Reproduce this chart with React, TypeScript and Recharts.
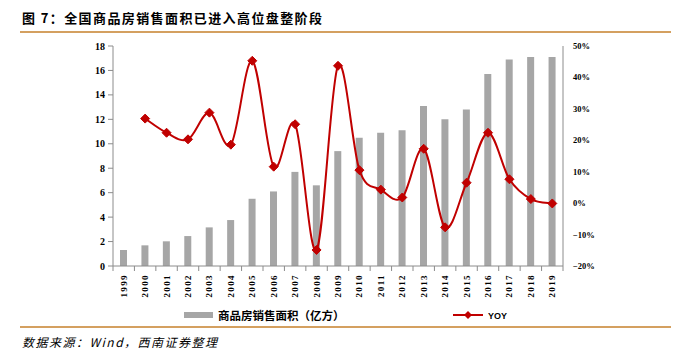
import React from "react";
import { ComposedChart, Bar, Line, XAxis, YAxis } from "recharts";

const years = ["1999","2000","2001","2002","2003","2004","2005","2006","2007","2008","2009","2010","2011","2012","2013","2014","2015","2016","2017","2018","2019"];
const area = [1.31,1.69,2.02,2.45,3.16,3.76,5.5,6.1,7.7,6.6,9.4,10.5,10.9,11.1,13.1,12.0,12.8,15.7,16.9,17.1,17.1];
const yoy: (number | null)[] = [null,26.9,22.4,20.3,28.8,18.6,45.3,11.6,25.1,-14.9,43.7,10.5,4.3,1.8,17.3,-7.7,6.5,22.4,7.6,1.3,-0.1];
const leftTicks = [0,2,4,6,8,10,12,14,16,18];
const rightTicks = [-20,-10,0,10,20,30,40,50];

const data = years.map((y, i) => ({ year: y, area: area[i], yoy: yoy[i] }));

const CHART_W = 687;
const MARGIN = { top: 46, right: 74, bottom: 60, left: 60 };
const LEFT_AXIS_W = 53;
const RIGHT_AXIS_W = 50;
const PLOT_W = CHART_W - MARGIN.left - MARGIN.right - LEFT_AXIS_W - RIGHT_AXIS_W;
const STEP = PLOT_W / years.length;

const excelCurve = (context: any) => {
  let pts: number[][] = [];
  return {
    areaStart() {},
    areaEnd() {},
    lineStart() { pts = []; },
    point(x: number, y: number) { pts.push([+x, +y]); },
    lineEnd() {
      const n = pts.length;
      if (!n) return;
      context.moveTo(pts[0][0], pts[0][1]);
      const t = 1 / 6;
      for (let i = 0; i < n - 1; i++) {
        const p0 = pts[i - 1] || pts[i];
        const p1 = pts[i];
        const p2 = pts[i + 1];
        const p3 = pts[i + 2] || p2;
        context.bezierCurveTo(
          p1[0] + (p2[0] - p0[0]) * t, p1[1] + (p2[1] - p0[1]) * t,
          p2[0] - (p3[0] - p1[0]) * t, p2[1] - (p3[1] - p1[1]) * t,
          p2[0], p2[1]
        );
      }
    },
  };
};

const Diamond = (props: any) => {
  const { cx, cy, value } = props;
  if (value == null || cx == null || cy == null) return null;
  const r = 4.5;
  return (
    <polygon
      key={`d-${cx}`}
      points={`${cx},${cy - r} ${cx + r},${cy} ${cx},${cy + r} ${cx - r},${cy}`}
      fill="#C00000"
      stroke="#C00000"
    />
  );
};

const YearTick = (props: any) => {
  const { x, y, payload, index } = props;
  const isLast = index === years.length - 1;
  return (
    <g>
      <line x1={x - STEP / 2} y1={y} x2={x - STEP / 2} y2={y + 5} stroke="#8C8C8C" />
      {isLast && <line x1={x + STEP / 2} y1={y} x2={x + STEP / 2} y2={y + 5} stroke="#8C8C8C" />}
      <text
        x={0}
        y={0}
        transform={`translate(${x + 3},${y + 8}) rotate(-90)`}
        textAnchor="end"
        fontSize={9}
        fontWeight={700}
        letterSpacing={1.4}
        fontFamily="'Liberation Serif', serif"
        fill="#000"
      >
        {payload.value}
      </text>
    </g>
  );
};

const serifBold = { fontFamily: "'Liberation Serif', serif", fontWeight: 700, fill: "#000" };

export default function App() {
  return (
    <div style={{ position: "absolute", left: 0, top: 0, width: 687, height: 356, background: "#fff" }}>
      <div
        style={{
          position: "absolute", left: 22, top: 8, fontFamily: "'Noto Sans CJK SC', sans-serif",
          fontWeight: 700, fontSize: 13, letterSpacing: 1.4, color: "#000", whiteSpace: "nowrap",
        }}
      >
        图 7：全国商品房销售面积已进入高位盘整阶段
      </div>
      <div style={{ position: "absolute", left: 20, top: 31, width: 651, height: 2, background: "#D4A060" }} />
      <div style={{ position: "absolute", left: 0, top: 0 }}>
        <ComposedChart width={CHART_W} height={356} data={data} margin={MARGIN}>
          <XAxis
            dataKey="year"
            xAxisId="cat"
            tickLine={false}
            tickSize={0}
            tickMargin={0}
            axisLine={{ stroke: "#8C8C8C" }}
            tick={<YearTick />}
            interval={0}
            height={30}
          />
          <YAxis
            yAxisId="l"
            domain={[0, 18]}
            ticks={leftTicks}
            width={LEFT_AXIS_W}
            tickSize={5}
            tickMargin={3}
            axisLine={{ stroke: "#8C8C8C" }}
            tickLine={{ stroke: "#8C8C8C" }}
            tick={{ ...serifBold, fontSize: 10 }}
            interval={0}
          />
          <YAxis
            yAxisId="r"
            orientation="right"
            domain={[-20, 50]}
            ticks={rightTicks}
            width={RIGHT_AXIS_W}
            tickSize={5}
            tickMargin={5}
            tickLine={false}
            axisLine={{ stroke: "#8C8C8C" }}
            tick={{ ...serifBold, fontSize: 8.5, textAnchor: "start" }}
            tickFormatter={(v: number) => `${v < 0 ? "−" + Math.abs(v) : v}%`}
            interval={0}
          />
          <Bar xAxisId="cat" yAxisId="l" dataKey="area" fill="#A6A6A6" barSize={7} isAnimationActive={false} />
          <Line
            xAxisId="cat"
            yAxisId="r"
            dataKey="yoy"
            type={excelCurve as any}
            stroke="#C00000"
            strokeWidth={2}
            dot={<Diamond />}
            activeDot={false}
            isAnimationActive={false}
          />
        </ComposedChart>
      </div>
      <svg style={{ position: "absolute", left: 0, top: 300 }} width={687} height={30}>
        <rect x={184} y={12} width={29} height={6} fill="#A6A6A6" />
        <text x={218} y={19.5} fontSize={11.5} fontWeight={700} fontFamily="'Noto Sans CJK SC', sans-serif" fill="#000">
          商品房销售面积（亿方）
        </text>
        <line x1={453} y1={15} x2={483} y2={15} stroke="#C00000" strokeWidth={2} />
        <polygon points="468,11 472,15 468,19 464,15" fill="#C00000" />
        <text x={488} y={19} fontSize={9} fontWeight={700} fontFamily="'Liberation Sans', sans-serif" fill="#000">
          YOY
        </text>
      </svg>
      <div style={{ position: "absolute", left: 20, top: 326, width: 651, height: 2, background: "#D4A060" }} />
      <div
        style={{
          position: "absolute", left: 22, top: 333, fontFamily: "'Noto Sans CJK SC', sans-serif",
          fontStyle: "italic", fontSize: 12, letterSpacing: 1.5, color: "#000", whiteSpace: "nowrap",
        }}
      >
        数据来源：Wind，西南证券整理
      </div>
    </div>
  );
}
